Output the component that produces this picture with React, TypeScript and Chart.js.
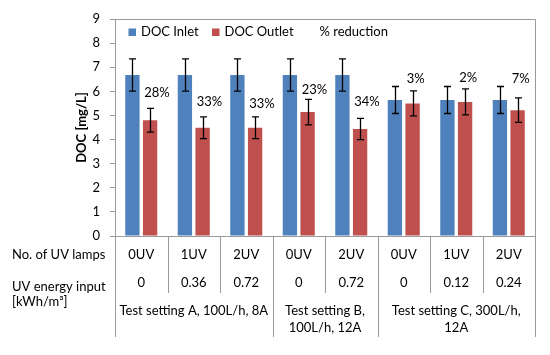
import React, { useEffect, useRef } from "react";
import { Chart, registerables } from "chart.js";

Chart.register(...registerables);

const categories = ["0UV", "1UV", "2UV", "0UV", "2UV", "0UV", "1UV", "2UV"];
const energyInput = ["0", "0.36", "0.72", "0", "0.72", "0", "0.12", "0.24"];
const groupLabels = [
  ["Test setting A, 100L/h, 8A"],
  ["Test setting B,", "100L/h, 12A"],
  ["Test setting C, 300L/h,", "12A"],
];
const groupSizes = [3, 2, 3];
const rowLabels = [["No. of UV lamps"], ["UV energy input", "[kWh/m\u00B3]"]];

const docInlet = [6.68, 6.68, 6.68, 6.68, 6.68, 5.64, 5.64, 5.64];
const docInletErr = [0.67, 0.67, 0.67, 0.67, 0.67, 0.56, 0.56, 0.56];
const docOutlet = [4.8, 4.49, 4.49, 5.14, 4.44, 5.5, 5.56, 5.22];
const docOutletErr = [0.49, 0.45, 0.45, 0.53, 0.44, 0.52, 0.54, 0.51];
const reductionLabels = ["28%", "33%", "33%", "23%", "34%", "3%", "2%", "7%"];
const reductionLabelY = [5.93, 5.58, 5.48, 6.08, 5.57, 6.5, 6.57, 6.5];
const yTicks = [0, 1, 2, 3, 4, 5, 6, 7, 8, 9];

const BLUE = "#4F81BD";
const RED = "#C0504D";
const GRAY = "#9a9a9a";
const FONT = "Lato, 'Open Sans', sans-serif";

const overlayPlugin = {
  id: "overlay",
  afterDraw(chart: any) {
    const ctx = chart.ctx;
    const ca = chart.chartArea;
    const x = chart.scales.x;
    const y = chart.scales.y;
    ctx.save();

    // plot border (top & right)
    ctx.strokeStyle = GRAY;
    ctx.lineWidth = 1;
    ctx.beginPath();
    ctx.moveTo(Math.round(ca.left) + 0.5, Math.round(ca.top) + 0.5);
    ctx.lineTo(Math.round(ca.right) + 0.5, Math.round(ca.top) + 0.5);
    ctx.lineTo(Math.round(ca.right) + 0.5, Math.round(ca.bottom) + 0.5);
    ctx.stroke();

    // error bars
    const errs = [docInletErr, docOutletErr];
    const vals = [docInlet, docOutlet];
    ctx.strokeStyle = "#000";
    ctx.lineWidth = 1.3;
    for (let d = 0; d < 2; d++) {
      const meta = chart.getDatasetMeta(d);
      meta.data.forEach((bar: any, i: number) => {
        const yt = y.getPixelForValue(vals[d][i] + errs[d][i]);
        const yb = y.getPixelForValue(vals[d][i] - errs[d][i]);
        const cx = Math.round(bar.x) + 0.5;
        ctx.beginPath();
        ctx.moveTo(cx, yt);
        ctx.lineTo(cx, yb);
        ctx.moveTo(cx - 3.5, yt);
        ctx.lineTo(cx + 3.5, yt);
        ctx.moveTo(cx - 3.5, yb);
        ctx.lineTo(cx + 3.5, yb);
        ctx.stroke();
      });
    }

    // % reduction labels
    ctx.fillStyle = "#000";
    ctx.font = `13px ${FONT}`;
    ctx.textAlign = "left";
    ctx.textBaseline = "middle";
    const lmeta = chart.getDatasetMeta(2);
    lmeta.data.forEach((pt: any, i: number) => {
      ctx.fillText(reductionLabels[i], pt.x + 3, pt.y);
    });

    // legend
    const ds = chart.data.datasets;
    const legendY = ca.top + 13;
    const items = [
      { color: BLUE, label: ds[0].label, sx: ca.left + 13.5 },
      { color: RED, label: ds[1].label, sx: ca.left + 97 },
      { color: null, label: ds[2].label, sx: ca.left + 192 },
    ];
    items.forEach((it) => {
      if (it.color) {
        ctx.fillStyle = it.color;
        ctx.fillRect(it.sx, legendY - 3.5, 7.5, 7.5);
      }
      ctx.fillStyle = "#000";
      ctx.textAlign = "left";
      ctx.fillText(it.label, it.sx + 12.5, legendY);
    });

    // y axis title
    ctx.save();
    ctx.translate(82, (ca.top + ca.bottom) / 2);
    ctx.rotate(-Math.PI / 2);
    ctx.font = `bold 13px ${FONT}`;
    ctx.textAlign = "center";
    ctx.textBaseline = "middle";
    ctx.fillText("DOC [mg/L]", 0, 0);
    ctx.restore();

    // table below
    const n = categories.length;
    const step = (ca.right - ca.left) / n;
    const row1 = ca.bottom + 19;
    const row2 = ca.bottom + 47;
    const grp1 = ca.bottom + 75;
    const lineH = 17;
    ctx.font = `13px ${FONT}`;
    ctx.textAlign = "center";
    for (let i = 0; i < n; i++) {
      const cx = x.getPixelForValue(i);
      ctx.fillText(categories[i], cx, row1);
      ctx.fillText(energyInput[i], cx, row2);
    }
    // vertical lines
    ctx.strokeStyle = GRAY;
    ctx.lineWidth = 1;
    const groupBounds = new Set<number>([0]);
    let acc = 0;
    groupSizes.forEach((s) => {
      acc += s;
      groupBounds.add(acc);
    });
    for (let b = 0; b <= n; b++) {
      const bx = Math.round(ca.left + b * step) + 0.5;
      const bottom = groupBounds.has(b) ? ca.bottom + 101 : ca.bottom + 57;
      ctx.beginPath();
      ctx.moveTo(bx, ca.bottom);
      ctx.lineTo(bx, bottom);
      ctx.stroke();
    }
    // group labels
    let start = 0;
    groupSizes.forEach((s, g) => {
      const gx = ca.left + (start + s / 2) * step;
      groupLabels[g].forEach((t, k) => {
        ctx.fillText(t, gx, grp1 + k * lineH);
      });
      start += s;
    });
    // row labels
    ctx.textAlign = "left";
    ctx.fillText(rowLabels[0][0], 12, row1);
    ctx.fillText(rowLabels[1][0], 12, row2 + 4);
    ctx.fillText(rowLabels[1][1], 12, row2 + 19);

    ctx.restore();
  },
};

export default function App() {
  const ref = useRef<HTMLCanvasElement | null>(null);
  useEffect(() => {
    if (!ref.current) return;
    const chart = new Chart(ref.current, {
      type: "bar",
      data: {
        labels: categories,
        datasets: [
          {
            label: "DOC Inlet",
            data: docInlet,
            backgroundColor: BLUE,
            categoryPercentage: 0.674,
            barPercentage: 0.81,
          },
          {
            label: "DOC Outlet",
            data: docOutlet,
            backgroundColor: RED,
            categoryPercentage: 0.674,
            barPercentage: 0.81,
          },
          {
            type: "line",
            label: "% reduction",
            data: reductionLabelY,
            showLine: false,
            pointRadius: 0,
            borderColor: "transparent",
            backgroundColor: "transparent",
          } as any,
        ],
      },
      options: {
        responsive: false,
        animation: false,
        layout: { padding: { left: 0, right: 15, top: 19, bottom: 0 } },
        plugins: {
          legend: { display: false },
          tooltip: { enabled: false },
        },
        scales: {
          x: {
            grid: { display: false },
            ticks: { display: false },
            border: { display: true, color: GRAY },
            afterFit: (s: any) => {
              s.height = 119;
            },
          },
          y: {
            min: 0,
            max: 9,
            afterBuildTicks: (s: any) => {
              s.ticks = yTicks.map((v) => ({ value: v }));
            },
            grid: {
              drawOnChartArea: false,
              drawTicks: true,
              tickLength: 5,
              color: GRAY,
            },
            border: { display: true, color: GRAY },
            ticks: {
              color: "#000",
              padding: 10,
              font: { family: FONT, size: 13 },
            },
            afterFit: (s: any) => {
              s.width = 115;
            },
          },
        },
      },
      plugins: [overlayPlugin],
    });
    return () => chart.destroy();
  }, []);
  return (
    <div style={{ position: "absolute", left: 0, top: 0, width: 550, height: 355, background: "#fff" }}>
      <canvas ref={ref} width={550} height={355} style={{ display: "block" }} />
    </div>
  );
}
